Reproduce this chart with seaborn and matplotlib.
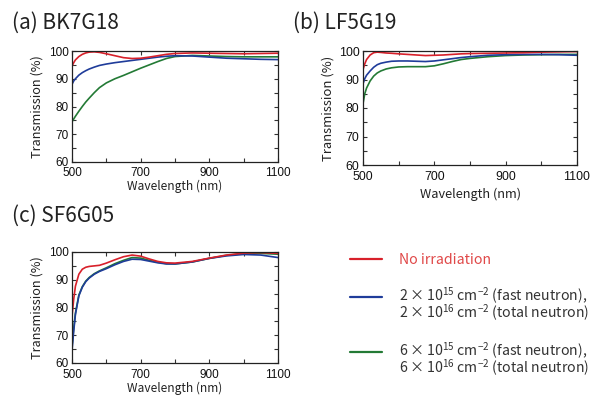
import numpy as np
import pandas as pd
import matplotlib
matplotlib.use("Agg")
import matplotlib.pyplot as plt
from matplotlib.lines import Line2D
import seaborn as sns

# Wavelength grid (nm) shared by all spectra
wavelength = [500, 505, 510, 520, 530, 540, 550, 565, 580, 600, 625, 650, 675,
              700, 725, 750, 775, 800, 850, 900, 950, 1000, 1050, 1100]

# (a) BK7G18 transmission (%)
bk7_none = [94.5, 95.8, 96.8, 98.0, 98.8, 99.3, 99.6, 99.7, 99.5, 99.0, 98.3, 97.6, 97.3,
            97.4, 97.8, 98.3, 98.8, 99.1, 99.3, 99.2, 99.1, 99.0, 99.1, 99.2]
bk7_low = [88.0, 89.2, 90.0, 91.3, 92.2, 92.9, 93.5, 94.2, 94.8, 95.3, 95.8, 96.2, 96.6,
           97.0, 97.4, 97.8, 98.1, 98.3, 98.2, 97.8, 97.4, 97.2, 97.0, 96.9]
bk7_high = [74.5, 75.5, 76.5, 78.3, 80.0, 81.6, 83.0, 85.0, 86.8, 88.5, 90.0, 91.2, 92.5,
            93.8, 95.0, 96.2, 97.3, 98.0, 98.4, 98.2, 98.0, 97.9, 97.9, 97.9]

# (b) LF5G19 transmission (%)
lf5_none = [93.5, 95.5, 97.0, 98.6, 99.4, 99.6, 99.5, 99.3, 99.2, 99.0, 98.8, 98.6, 98.4,
            98.5, 98.6, 98.8, 99.0, 99.1, 99.2, 99.3, 99.4, 99.6, 99.7, 99.8]
lf5_low = [88.5, 90.3, 91.5, 93.0, 94.3, 95.2, 95.7, 96.1, 96.4, 96.5, 96.5, 96.4, 96.3,
           96.5, 96.9, 97.3, 97.7, 98.0, 98.5, 98.7, 98.8, 98.8, 98.7, 98.5]
lf5_high = [81.5, 85.0, 87.0, 89.5, 91.2, 92.3, 93.0, 93.7, 94.1, 94.4, 94.5, 94.5, 94.5,
            94.8, 95.5, 96.3, 97.0, 97.4, 98.0, 98.4, 98.6, 98.7, 98.8, 98.8]

# (c) SF6G05 transmission (%)
sf6_none = [76.8, 83.0, 87.7, 92.0, 93.8, 94.5, 94.8, 95.0, 95.2, 96.0, 97.2, 98.3, 98.9,
            98.5, 97.5, 96.6, 96.1, 96.0, 96.6, 97.8, 98.9, 99.6, 99.8, 99.5]
sf6_low = [64.5, 71.5, 77.5, 84.2, 87.3, 89.3, 90.6, 92.0, 93.0, 94.0, 95.4, 96.6, 97.4,
           97.3, 96.7, 96.1, 95.7, 95.7, 96.4, 97.7, 98.6, 99.1, 98.9, 98.0]
sf6_high = [66.0, 72.5, 78.0, 84.5, 87.5, 89.5, 90.8, 92.2, 93.2, 94.3, 95.8, 97.0, 98.0,
            97.8, 97.0, 96.3, 95.8, 95.7, 96.4, 97.7, 98.8, 99.4, 99.5, 99.2]

conditions = ["none", "low", "high"]
colors = {"none": "#d8202a", "low": "#1f3c9a", "high": "#237a35"}
panel_titles = ["(a) BK7G18", "(b) LF5G19", "(c) SF6G05"]
panel_series = [
    (bk7_none, bk7_low, bk7_high),
    (lf5_none, lf5_low, lf5_high),
    (sf6_none, sf6_low, sf6_high),
]
legend_labels = [
    "No irradiation",
    "$2\\times10^{15}$ cm$^{-2}$ (fast neutron),\n$2\\times10^{16}$ cm$^{-2}$ (total neutron)",
    "$6\\times10^{15}$ cm$^{-2}$ (fast neutron),\n$6\\times10^{16}$ cm$^{-2}$ (total neutron)",
]

sns.set_theme(style="ticks")
JP = "Noto Sans CJK JP"
plt.rcParams["font.family"] = [JP, "DejaVu Sans"]
plt.rcParams["mathtext.fontset"] = "custom"
plt.rcParams["mathtext.rm"] = JP
plt.rcParams["mathtext.it"] = JP
plt.rcParams["mathtext.bf"] = JP
plt.rcParams["mathtext.sf"] = JP

W, H = 598, 396
fig = plt.figure(figsize=(W / 100, H / 100), dpi=100)

# per-panel layout: axes box in pixels (left, top, right, bottom), title anchor,
# tick/label font sizes and label pads
panels = [
    dict(box=(72, 51, 278, 162), title=(12, 23), tick=8.5, xl=8.6, yl=9.2,
         tpad=3.8, xpad=0.0, ypad=3.5),
    dict(box=(363, 51, 577, 165), title=(293, 23), tick=8.9, xl=9.2, yl=9.4,
         tpad=4.5, xpad=3.0, ypad=3.0),
    dict(box=(72, 252, 278, 363), title=(12, 216), tick=8.5, xl=8.6, yl=9.2,
         tpad=4.2, xpad=0.3, ypad=3.5),
]

for p, series, title in zip(panels, panel_series, panel_titles):
    l, t, r, b = p["box"]
    ax = fig.add_axes([l / W, 1 - b / H, (r - l) / W, (b - t) / H])
    frames = []
    for cond, vals in zip(conditions, series):
        frames.append(pd.DataFrame({"wavelength": wavelength,
                                    "transmission": vals,
                                    "condition": cond}))
    df = pd.concat(frames, ignore_index=True)
    sns.lineplot(data=df, x="wavelength", y="transmission", hue="condition",
                 hue_order=["high", "low", "none"], palette=colors,
                 linewidth=1.2, legend=False, ax=ax)
    ax.set_xlim(500, 1100)
    ax.set_ylim(60, 100)
    ax.set_xticks([500, 700, 900, 1100])
    ax.set_xticks([600, 800, 1000], minor=True)
    ax.set_yticks([60, 70, 80, 90, 100])
    ax.set_yticks([65, 75, 85, 95], minor=True)
    ax.tick_params(which="both", direction="in", top=True, right=True,
                   length=3, width=0.8, color="#333333")
    ax.tick_params(axis="x", pad=p["tpad"])
    ax.tick_params(axis="y", pad=2.5)
    for lab in ax.get_xticklabels() + ax.get_yticklabels():
        lab.set_fontfamily("Liberation Sans")
        lab.set_fontsize(p["tick"])
        lab.set_color("#111111")
    for sp in ax.spines.values():
        sp.set_linewidth(0.9)
        sp.set_color("#222222")
    ax.set_xlabel("Wavelength (nm)", fontsize=p["xl"], labelpad=p["xpad"], color="#222222")
    ax.set_ylabel("Transmission (%)", fontsize=p["yl"], labelpad=p["ypad"], color="#222222")
    fig.text(p["title"][0] / W, 1 - p["title"][1] / H, title, fontsize=15,
             va="center", ha="left", color="#222222")

# legend drawn at the right of panel (c); y = swatch row, n = text lines
legend_rows = [(259, 1, legend_labels[0], colors["none"], "#e04848"),
               (297, 2, legend_labels[1], colors["low"], "#333333"),
               (352, 2, legend_labels[2], colors["high"], "#333333")]
for y, n, text, lc, tc in legend_rows:
    yf = 1 - y / H
    fig.add_artist(Line2D([350 / W, 382 / W], [yf, yf], color=lc,
                          linewidth=1.6, transform=fig.transFigure))
    # baseline of the last text line; lines are 16 px apart
    base = y + 4.5 + 16.5 * (n - 1)
    fig.text(399 / W, 1 - base / H, text, fontsize=10.2, va="baseline",
             ha="left", color=tc, linespacing=0.81)

fig.savefig("out.png", dpi=100)
